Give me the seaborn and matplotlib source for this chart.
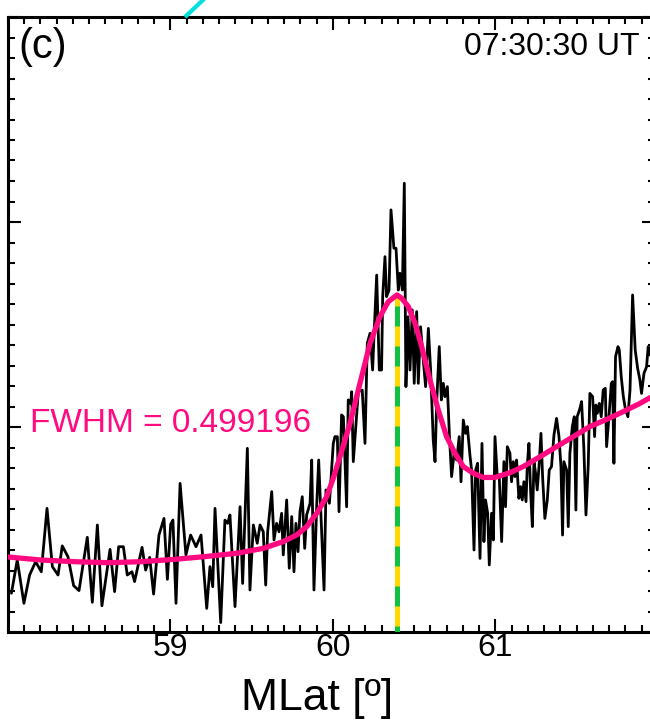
import matplotlib
matplotlib.use("Agg")
import matplotlib.pyplot as plt
import seaborn as sns
import pandas as pd
from matplotlib.ticker import MultipleLocator

# ---------------- data ----------------
mlat = [58.021, 58.057, 58.098, 58.133, 58.170, 58.205, 58.240, 58.273, 58.308, 58.334,
        58.369, 58.404, 58.437, 58.488, 58.519, 58.550, 58.578, 58.628, 58.656, 58.681,
        58.710, 58.734, 58.763, 58.779, 58.825, 58.847, 58.872, 58.896, 58.929, 58.960,
        58.981, 59.001, 59.015,
        59.034, 59.059, 59.095, 59.124, 59.157, 59.188, 59.223, 59.243, 59.260, 59.274,
        59.309, 59.335, 59.352, 59.366, 59.397, 59.428, 59.444, 59.473, 59.489, 59.510,
        59.534, 59.551, 59.571, 59.586, 59.598, 59.623, 59.637, 59.653, 59.668, 59.684,
        59.694, 59.715, 59.731, 59.746, 59.760, 59.772, 59.785, 59.797, 59.811, 59.826,
        59.838, 59.859, 59.869, 59.883, 59.900, 59.912, 59.924, 59.945, 59.957, 59.978,
        60.002,
        60.012, 60.027, 60.037, 60.053, 60.064, 60.084, 60.094, 60.109, 60.115, 60.125,
        60.142, 60.156, 60.180, 60.197, 60.211, 60.228, 60.244, 60.254, 60.269, 60.285,
        60.299, 60.306, 60.320, 60.330, 60.345, 60.357, 60.375, 60.388, 60.402, 60.412,
        60.427, 60.439, 60.449, 60.462, 60.474, 60.488, 60.500, 60.515, 60.525, 60.539,
        60.554, 60.570, 60.587, 60.601, 60.617, 60.628, 60.638, 60.654, 60.667, 60.679,
        60.689, 60.704, 60.716, 60.730, 60.745, 60.761, 60.777, 60.788, 60.802, 60.816,
        60.827, 60.843, 60.853, 60.868, 60.878, 60.890, 60.905, 60.917, 60.929, 60.939,
        60.952, 60.962, 60.976, 60.987,
        60.997, 61.011, 61.023, 61.038, 61.052, 61.062, 61.073, 61.089, 61.099, 61.110,
        61.120, 61.130, 61.144, 61.155, 61.165, 61.175, 61.188, 61.196, 61.206, 61.216,
        61.227, 61.237, 61.247, 61.257, 61.268, 61.280, 61.290, 61.304, 61.319, 61.331,
        61.345, 61.360, 61.376, 61.391, 61.403, 61.413, 61.421, 61.438, 61.448, 61.458,
        61.473, 61.485, 61.495, 61.503, 61.520, 61.530, 61.544, 61.557, 61.571, 61.581,
        61.598, 61.610, 61.618, 61.627, 61.639, 61.651, 61.663, 61.676, 61.684, 61.700,
        61.713, 61.721, 61.729, 61.739, 61.754, 61.762, 61.774, 61.787, 61.799, 61.815,
        61.828, 61.844, 61.860, 61.875, 61.889, 61.899, 61.914, 61.930, 61.940, 61.951,
        61.990]

intensity = [0.189, 0.351, 0.140, 0.278, 0.343, 0.294, 0.603, 0.319, 0.278, 0.420,
             0.367, 0.226, 0.202, 0.462, 0.145, 0.522, 0.128, 0.403, 0.197, 0.416,
             0.416, 0.278, 0.294, 0.246, 0.413, 0.302, 0.364, 0.185, 0.473, 0.554,
             0.257, 0.525, 0.546,
             0.140, 0.725, 0.376, 0.473, 0.416, 0.473, 0.115, 0.319, 0.221, 0.603,
             0.046, 0.546, 0.530, 0.571, 0.124, 0.611, 0.237, 0.896, 0.205, 0.522,
             0.433, 0.522, 0.489, 0.229, 0.489, 0.685, 0.449, 0.530, 0.489, 0.579,
             0.376, 0.644, 0.311, 0.563, 0.294, 0.530, 0.392, 0.587, 0.660, 0.408,
             0.571, 0.628, 0.839, 0.205, 0.620, 0.839, 0.611, 0.205, 0.693, 0.628,
             0.920,
             0.953, 0.953, 0.587, 1.059, 1.050, 0.611, 1.132, 1.115, 1.172, 0.831,
             1.018, 1.172, 1.180, 0.920, 1.408, 1.457, 1.278, 1.473, 1.741, 1.278,
             1.278, 1.636, 1.831, 1.636, 1.668, 2.059, 1.872, 1.872, 1.668, 1.750,
             1.668, 2.189, 1.197, 1.538, 1.278, 1.571, 1.213, 1.563, 1.213, 1.489,
             1.343, 1.197, 1.481, 1.278, 0.937, 0.831, 1.115, 1.392, 1.132, 1.213,
             1.148, 1.197, 0.969, 0.758, 0.872, 0.839, 0.953, 0.733, 1.034, 0.969,
             1.002, 0.863, 0.790, 0.400, 0.790, 0.823, 0.359, 0.920, 0.441, 0.644,
             0.579, 0.327, 0.579, 0.449,
             0.953, 0.758, 0.766, 0.441, 0.831, 0.611, 0.904, 0.872, 0.733, 0.831,
             0.758, 0.839, 0.652, 0.709, 0.644, 0.733, 0.636, 0.815, 0.920, 0.693,
             0.514, 0.831, 0.774, 0.693, 0.807, 0.969, 0.758, 0.554, 0.644, 0.790,
             0.807, 0.961, 1.042, 0.953, 0.807, 0.473, 0.831, 0.790, 0.514, 0.872,
             1.002, 1.050, 0.595, 1.050, 1.091, 1.124, 0.896, 0.571, 0.815, 1.164,
             1.148, 0.953, 1.107, 1.067, 1.115, 1.050, 1.180, 1.189, 0.904, 1.067,
             1.213, 1.221, 0.823, 1.343, 1.392, 1.376, 1.246, 1.148, 1.091, 1.050,
             1.180, 1.644, 1.376, 1.286, 1.229, 1.164, 1.262, 1.294, 1.392, 1.351,
             1.440]

fit_mlat = [58.000, 58.205, 58.410, 58.615, 58.820, 59.015, 59.202, 59.407, 59.571,
            59.694, 59.776, 59.838, 59.900, 59.961, 60.002, 60.043, 60.105, 60.166,
            60.228, 60.289, 60.340, 60.394, 60.423, 60.464, 60.505, 60.546, 60.597,
            60.648, 60.699, 60.751, 60.802, 60.864, 60.925, 60.997, 61.089, 61.171,
            61.274, 61.376, 61.479, 61.581, 61.684, 61.787, 61.889, 61.990]
fit_intensity = [0.366, 0.351, 0.343, 0.338, 0.343, 0.354, 0.367, 0.384, 0.408,
                 0.441, 0.473, 0.514, 0.579, 0.660, 0.750, 0.855, 1.018, 1.213,
                 1.408, 1.538, 1.611, 1.644, 1.628, 1.587, 1.506, 1.392, 1.229,
                 1.083, 0.953, 0.872, 0.807, 0.774, 0.754, 0.754, 0.777, 0.807,
                 0.855, 0.904, 0.953, 1.002, 1.037, 1.075, 1.115, 1.160]

peak_mlat = 60.394
peak_intensity = 1.644
fwhm_text = "FWHM = 0.499196"
time_text = "07:30:30 UT"
panel_label = "(c)"
x_label = "MLat [º]"
x_major = [59, 60, 61]

# edge of the neighbouring panel's cyan trace (above this panel)
cyan_mlat = [59.089, 59.250]
cyan_val = [3.000, 3.120]

# ---------------- style ----------------
sns.set_style("ticks")
plt.rcParams['font.family'] = ['Liberation Sans', 'DejaVu Sans']
plt.rcParams['text.color'] = 'black'
plt.rcParams['axes.labelcolor'] = 'black'
plt.rcParams['xtick.color'] = 'black'
plt.rcParams['ytick.color'] = 'black'
plt.rcParams['xtick.labelcolor'] = 'black'

fig = plt.figure(figsize=(6.5, 7.23), dpi=100)
ax = fig.add_axes([8 / 650, 91 / 723, 646.7 / 650, 615 / 723])

df = pd.DataFrame({"mlat": mlat, "intensity": intensity})
fit_df = pd.DataFrame({"mlat": fit_mlat, "intensity": fit_intensity})

sns.lineplot(data=df, x="mlat", y="intensity", ax=ax, color="black",
             linewidth=2.0, estimator=None, sort=False, zorder=2)

# centre marker: yellow base with green dashes
ax.plot([peak_mlat, peak_mlat], [0, peak_intensity], color="#FFD800",
        linewidth=3.6, solid_capstyle="butt", zorder=3)
ax.plot([peak_mlat, peak_mlat], [0, peak_intensity], color="#10C040",
        linewidth=3.6, linestyle=(2.8, (4, 4)), dash_capstyle="butt", zorder=4)

sns.lineplot(data=fit_df, x="mlat", y="intensity", ax=ax, color="#FF0A80",
             linewidth=3.8, estimator=None, sort=False, zorder=5)

ax.plot(cyan_mlat, cyan_val, color="#00E0E0", linewidth=3.0, clip_on=False,
        solid_capstyle="butt", zorder=6)

ax.set_xlim(58.0, 61.98)
ax.set_ylim(0, 3)
ax.xaxis.set_major_locator(MultipleLocator(1))
ax.xaxis.set_minor_locator(MultipleLocator(0.1))
ax.yaxis.set_major_locator(MultipleLocator(1))
ax.yaxis.set_minor_locator(MultipleLocator(0.1))
ax.set_xticks(x_major)
ax.set_xticklabels([str(v) for v in x_major])

for s in ax.spines.values():
    s.set_visible(True)
    s.set_linewidth(2.2)
    s.set_color("black")

ax.tick_params(which="both", direction="in", top=True, right=True,
               bottom=True, left=True, color="black", labelcolor="black",
               width=1.5)
ax.tick_params(which="major", length=9.4, labelsize=23, pad=1)
ax.tick_params(which="minor", length=5)
ax.tick_params(axis="y", labelleft=False)

ax.set_xlabel(x_label, fontsize=32, color="black")
ax.set_ylabel("")
ax.xaxis.set_label_coords(0.4786, -0.1268)
ax.xaxis.label.set_va("baseline")

ax.text(0.0155, 0.984, panel_label, transform=ax.transAxes, fontsize=30,
        ha="left", va="top", color="black")
ax.text(0.977, 0.938, time_text, transform=ax.transAxes, fontsize=23,
        ha="right", va="baseline", color="black")
ax.text(58.135, 0.976, fwhm_text, color="#FF0A80", fontsize=24,
        ha="left", va="baseline")

fig.savefig("out.png", dpi=100)
